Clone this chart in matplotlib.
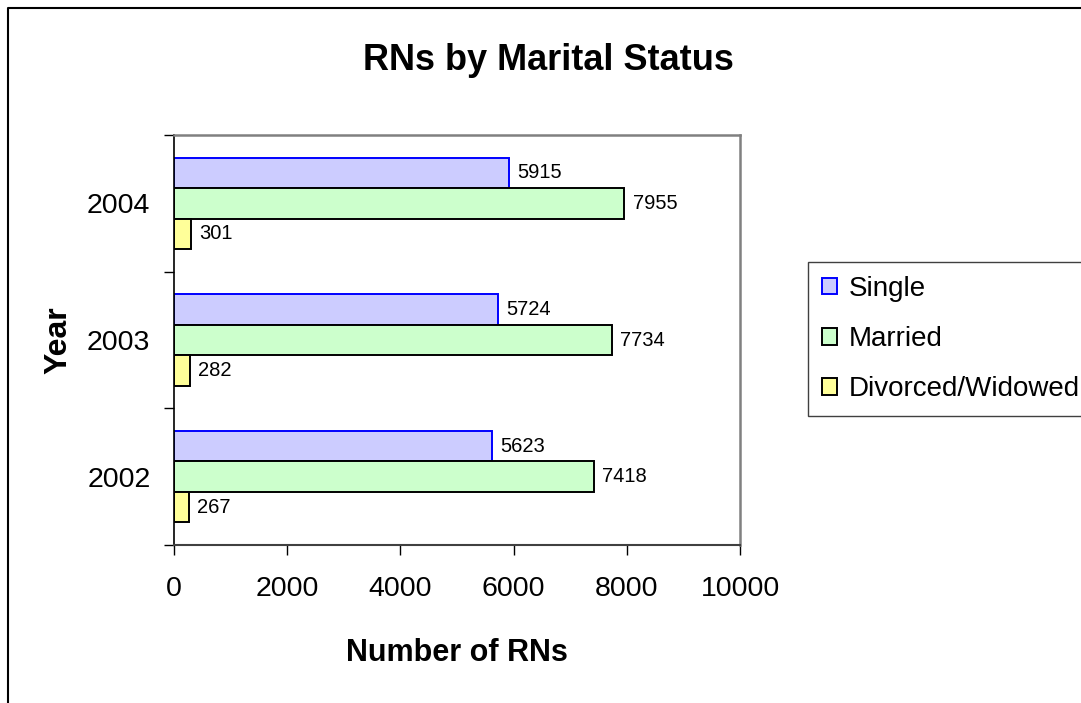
import numpy as np
import matplotlib
matplotlib.use('Agg')
import matplotlib.pyplot as plt
from matplotlib.lines import Line2D

plt.rcParams['font.family'] = ['Liberation Sans', 'DejaVu Sans']

# data
years = ['2002', '2003', '2004']
single = [5623, 5724, 5915]
married = [7418, 7734, 7955]
divorced = [267, 282, 301]
series_names = ['Single', 'Married', 'Divorced/Widowed']

W, H = 1081, 703
fig = plt.figure(figsize=(W / 100, H / 100), dpi=100)
ax = fig.add_axes([174 / W, 1 - 545 / H, (740 - 174) / W, (545 - 135) / H])

y = np.arange(len(years))
h = 1 / 4.5  # Excel gap width 150%

b1 = ax.barh(y + h, single, height=h, color='#CCCCFF', edgecolor='#0000FF', linewidth=1.4)
b2 = ax.barh(y, married, height=h, color='#CCFFCC', edgecolor='black', linewidth=1.4)
b3 = ax.barh(y - h, divorced, height=h, color='#FFFF99', edgecolor='black', linewidth=1.4)

for bars in (b1, b2, b3):
    for rect in bars:
        ax.annotate(str(int(rect.get_width())),
                    (rect.get_width(), rect.get_y() + rect.get_height() / 2),
                    xytext=(6, 0), textcoords='offset points',
                    va='center', ha='left', fontsize=14.5)

ax.set_xlim(0, 10000)
ax.set_ylim(-0.5, 2.5)
ax.set_xticks(np.arange(0, 10001, 2000))
ax.tick_params(axis='x', labelsize=20.5, length=7, width=1, pad=15)

ax.set_yticks([-0.5, 0.5, 1.5, 2.5])
ax.set_yticklabels([])
ax.set_yticks(y, minor=True)
ax.set_yticklabels(years, minor=True)
ax.tick_params(axis='y', which='major', length=7, width=1)
ax.tick_params(axis='y', which='minor', length=0, labelsize=20.5, pad=17)

for s in ('top', 'right'):
    ax.spines[s].set_color('#808080')
    ax.spines[s].set_linewidth(1.8)
ax.spines['left'].set_color('black')
ax.spines['bottom'].set_color('#404040')
ax.spines['left'].set_linewidth(1.2)
ax.spines['bottom'].set_linewidth(1.5)

ax.set_xlabel('Number of RNs', fontsize=22, fontweight='bold', labelpad=26)
ax.set_ylabel('Year', fontsize=23, fontweight='bold', labelpad=10)

fig.text(548 / W, 1 - 61 / H, 'RNs by Marital Status', fontsize=26, fontweight='bold',
         ha='center', va='center')

leg = fig.legend([b1, b2, b3], series_names, loc='upper left',
                 bbox_to_anchor=(808 / W, 1 - 262 / H), fontsize=20,
                 handlelength=0.55, handleheight=0.55, handletextpad=0.4,
                 labelspacing=0.87, borderpad=0.5, borderaxespad=0,
                 fancybox=False, framealpha=1)
leg.get_frame().set_edgecolor('#404040')
leg.get_frame().set_linewidth(1.0)

# outer chart frame (left and top edges visible)
fig.add_artist(Line2D([8 / W, 8 / W, 1.0], [0.0, 1 - 8 / H, 1 - 8 / H],
                      transform=fig.transFigure, color='black', linewidth=1.5))

fig.savefig('out.png', dpi=100)
